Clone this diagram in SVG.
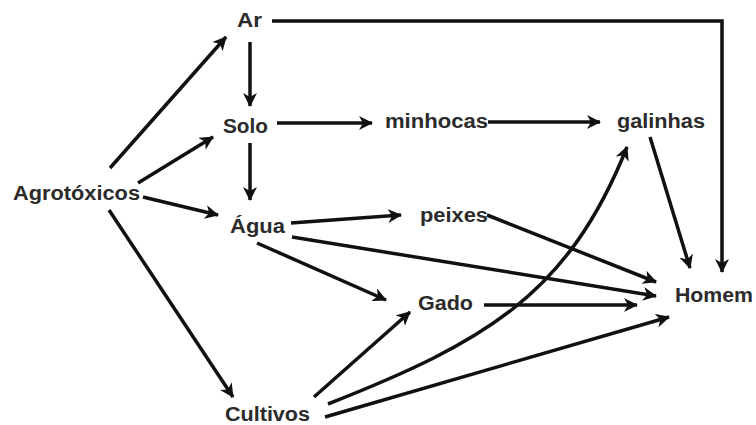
<svg xmlns="http://www.w3.org/2000/svg" width="756" height="425" viewBox="0 0 756 425">
<style>
.t{font-family:"Liberation Sans",Arial,sans-serif;font-weight:bold;font-size:20px;fill:#2b2b2b}
.c{stroke:#111;stroke-width:3.5;fill:none;marker-end:url(#ah)}
</style>
<defs>
<marker id="ah" markerUnits="userSpaceOnUse" markerWidth="15" markerHeight="14" refX="13" refY="7" orient="auto" viewBox="0 0 15 14">
<path d="M0,0 L14,7 L0,14 L4,7 z" fill="#111"/>
</marker>
</defs>
<rect width="756" height="425" fill="#fff"/>
<g id="connectors">
<path class="c" d="M272,21 H722 V272"/>
<path class="c" d="M250,42 V106"/>
<path class="c" d="M277,123 H372"/>
<path class="c" d="M488,122 H600"/>
<path class="c" d="M250,143 V200"/>
<path class="c" d="M110,168 L226,37"/>
<path class="c" d="M138,183 L213,137"/>
<path class="c" d="M143,197 L218,215"/>
<path class="c" d="M109,210 L233,397"/>
<path class="c" d="M291,223 L401,215"/>
<path class="c" d="M487,215 L656,282"/>
<path class="c" d="M292,237 L656,296"/>
<path class="c" d="M257,243 L386,300"/>
<path class="c" d="M484,305 L637,305"/>
<path class="c" d="M314,397 L410,312"/>
<path class="c" d="M328,404 C485,342 568,295 627,147"/>
<path class="c" d="M325,417 L669,317"/>
<path class="c" d="M650,137 L690,268"/>
</g>
<g id="ar"><text class="t" x="237" y="27" textLength="25" lengthAdjust="spacingAndGlyphs">Ar</text></g>
<g id="solo"><text class="t" x="223" y="133" textLength="45" lengthAdjust="spacingAndGlyphs">Solo</text></g>
<g id="minhocas"><text class="t" x="385" y="128" textLength="103" lengthAdjust="spacingAndGlyphs">minhocas</text></g>
<g id="galinhas"><text class="t" x="617" y="128" textLength="88" lengthAdjust="spacingAndGlyphs">galinhas</text></g>
<g id="agrotoxicos"><text class="t" x="13" y="200" textLength="127" lengthAdjust="spacingAndGlyphs">Agrotóxicos</text></g>
<g id="agua"><text class="t" x="230" y="233" textLength="55" lengthAdjust="spacingAndGlyphs">Água</text></g>
<g id="peixes"><text class="t" x="420" y="222" textLength="68" lengthAdjust="spacingAndGlyphs">peixes</text></g>
<g id="gado"><text class="t" x="418" y="310" textLength="55" lengthAdjust="spacingAndGlyphs">Gado</text></g>
<g id="homem"><text class="t" x="675" y="302" textLength="78" lengthAdjust="spacingAndGlyphs">Homem</text></g>
<g id="cultivos"><text class="t" x="225" y="421" textLength="85" lengthAdjust="spacingAndGlyphs">Cultivos</text></g>
</svg>
